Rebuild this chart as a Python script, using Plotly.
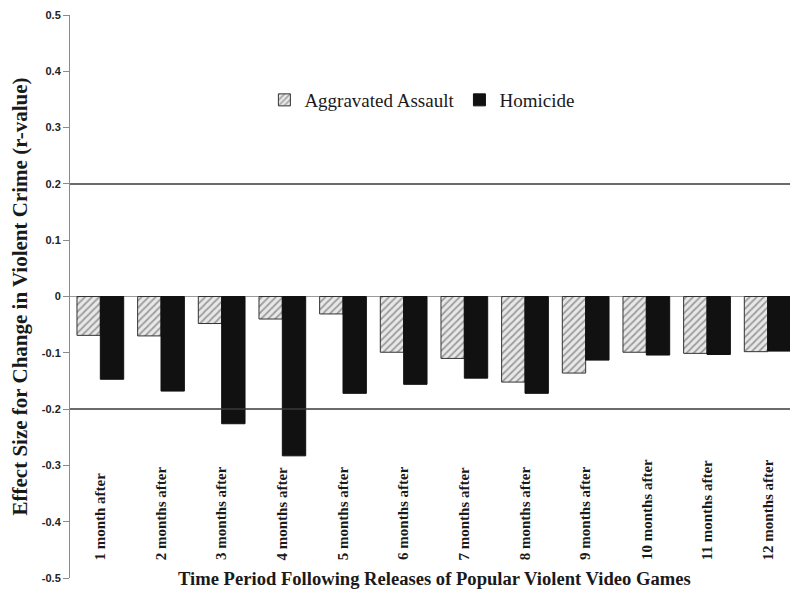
import plotly.graph_objects as go

categories = ["1 month after", "2 months after", "3 months after", "4 months after",
              "5 months after", "6 months after", "7 months after", "8 months after",
              "9 months after", "10 months after", "11 months after", "12 months after"]
aggravated_assault = [-0.069, -0.070, -0.048, -0.040, -0.031, -0.099,
                      -0.110, -0.152, -0.136, -0.099, -0.101, -0.098]
homicide = [-0.147, -0.168, -0.226, -0.283, -0.172, -0.156,
            -0.145, -0.172, -0.113, -0.104, -0.103, -0.097]
series_names = ["Aggravated Assault", "Homicide"]
y_tick_vals = [0.5, 0.4, 0.3, 0.2, 0.1, 0, -0.1, -0.2, -0.3, -0.4, -0.5]
y_tick_text = ["0.5", "0.4", "0.3", "0.2", "0.1", "0", "-0.1", "-0.2", "-0.3", "-0.4", "-0.5"]
ref_lines = [0.2, -0.2]

serif = "Liberation Serif"

fig = go.Figure()
fig.add_trace(go.Bar(
    x=categories, y=aggravated_assault, name=series_names[0],
    marker=dict(color="#e6e6e6", line=dict(color="#333333", width=1),
                pattern=dict(shape="/", fgcolor="#505050", bgcolor="#e8e8e8", size=5, solidity=0.35)),
))
fig.add_trace(go.Bar(
    x=categories, y=homicide, name=series_names[1],
    marker=dict(color="#111111", line=dict(color="#111111", width=1)),
))

for v in ref_lines:
    fig.add_shape(type="line", xref="paper", yref="y", x0=0, x1=1, y0=v, y1=v,
                  line=dict(color="#3a3a3a", width=1.5))

for c in categories:
    fig.add_annotation(x=c, y=-0.472, xref="x", yref="y", text="<b>" + c + "</b>", textangle=-90,
                       showarrow=False, xanchor="center", yanchor="bottom",
                       font=dict(family=serif, size=15, color="#1a1a1a"))

fig.add_annotation(x=0.5, y=0, xref="paper", yref="paper",
                   text="<b>Time Period Following Releases of Popular Violent Video Games</b>",
                   showarrow=False, xanchor="center", yanchor="middle",
                   font=dict(family=serif, size=18.6, color="#1a1a1a"))

fig.update_layout(
    width=790, height=587,
    margin=dict(l=62, r=0, t=7, b=17),
    font=dict(family=serif, color="#1a1a1a"),
    paper_bgcolor="white", plot_bgcolor="white",
    barmode="group", bargap=0.23, bargroupgap=0,
    showlegend=True,
    legend=dict(orientation="h", x=0.267, y=0.849, xanchor="left", yanchor="middle",
                font=dict(family=serif, size=19, color="#1a1a1a"),
                bgcolor="rgba(0,0,0,0)", itemwidth=30),
    xaxis=dict(showticklabels=False, showline=False, showgrid=False, zeroline=False,
               ticks=""),
    yaxis=dict(range=[-0.5, 0.5], tickvals=y_tick_vals, ticktext=["<b>" + t + "</b>" for t in y_tick_text],
               showgrid=False, zeroline=True, zerolinecolor="#9a9a9a", zerolinewidth=1,
               showline=True, linecolor="#8a8a8a", linewidth=1,
               ticks="outside", ticklen=6, tickcolor="#8a8a8a",
               tickfont=dict(family="Liberation Sans", size=11, color="#222222"),
               title=dict(text="<b>Effect Size for Change in Violent Crime (r-value)</b>",
                          font=dict(family=serif, size=21, color="#1a1a1a"), standoff=10)),
)

fig.write_html("out.html")
